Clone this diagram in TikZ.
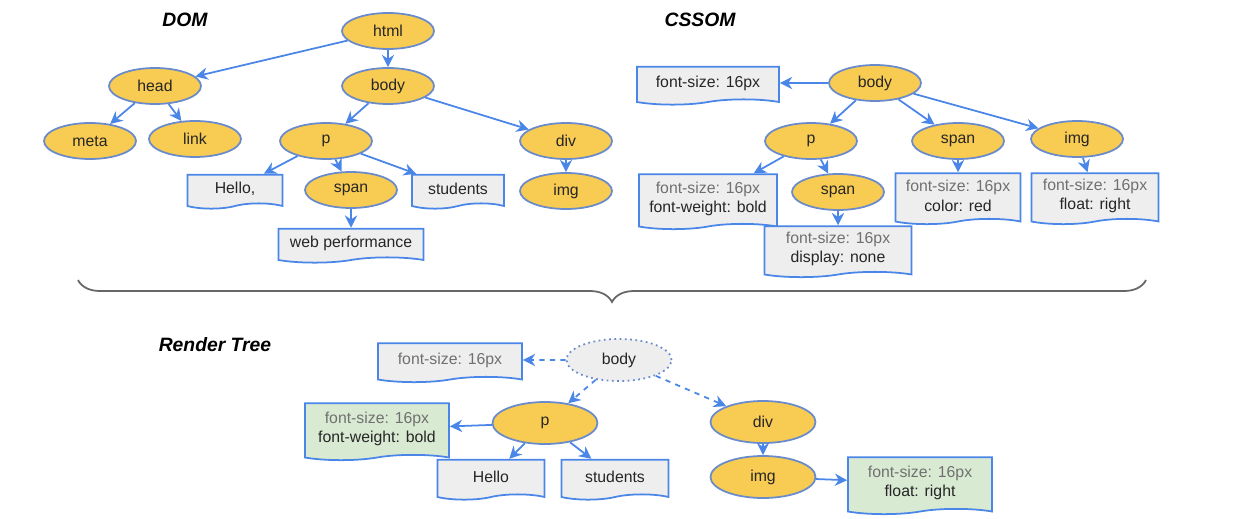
\documentclass[tikz,border=0pt]{standalone}
\usepackage{fontspec}
\setmainfont{Liberation Sans}
\usetikzlibrary{positioning, arrows.meta, shapes.geometric, shapes.symbols, decorations.pathreplacing}
\definecolor{nodeyellow}{HTML}{F8CB52}
\definecolor{nodeedge}{HTML}{6A8BCB}
\definecolor{arrowblue}{HTML}{4A86E8}
\definecolor{boxgray}{HTML}{EEEEEE}
\definecolor{boxgreen}{HTML}{D9EAD3}
\definecolor{textgray}{HTML}{707070}

\begin{document}
\begin{tikzpicture}[on grid, every node/.style={font=\fontsize{9}{11}\selectfont, text=black!85},
        el/.style={ellipse, draw=nodeedge, fill=nodeyellow, line width=1pt, minimum width=1.84cm, minimum height=0.72cm, inner sep=0pt},
        bigel/.style={el, minimum width=2.1cm, minimum height=0.84cm},
        doc/.style={tape, tape bend top=none, tape bend height=3pt, draw=arrowblue, fill=boxgray, line width=1pt, align=center, inner sep=2pt, minimum height=0.68cm},
        twoline/.style={doc, minimum height=1.02cm},
        greendoc/.style={twoline, fill=boxgreen},
        title/.style={font=\fontsize{11}{13}\selectfont\bfseries\itshape, text=black},
        arr/.style={draw=arrowblue, line width=1pt, -{Stealth[length=7pt, width=7pt]}},
        darr/.style={arr, dashed}]
            \useasboundingbox (0,0) rectangle (24.92,-10.36);
            \node[title] (domtitle) at (3.7,-0.4) {DOM};
            \node[title] (cssomtitle) at (14.0,-0.4) {CSSOM};
            \node[title] (rendertitle) at (4.3,-6.9) {Render Tree};
            \node[el] (html) at (7.76,-0.62) {html};
            \node[el, below left=1.1cm and 4.66cm of html] (head) {head};
            \node[el, below=1.1cm of html] (body) {body};
            \node[el, below left=1.1cm and 1.3cm of head] (meta) {meta};
            \node[el, below right=1.06cm and 0.8cm of head] (link) {link};
            \node[el, below left=1.1cm and 1.24cm of body] (p) {p};
            \node[el, below right=1.1cm and 3.56cm of body] (div) {div};
            \node[doc, minimum width=1.9cm, below left=0.96cm and 1.82cm of p] (hello) {Hello,};
            \node[el, below right=0.98cm and 0.5cm of p] (span) {span};
            \node[doc, minimum width=1.84cm, below right=0.96cm and 2.64cm of p] (students) {students};
            \node[el, below=1.0cm of div] (img) {img};
            \node[doc, minimum width=2.9cm, below=1.06cm of span] (webperf) {web performance};
            \node[el] (cbody) at (17.5,-1.66) {body};
            \node[doc, minimum width=2.84cm, minimum height=0.76cm, left=3.34cm of cbody] (cfont) {font-size: 16px};
            \node[el, below left=1.16cm and 1.28cm of cbody] (cp) {p};
            \node[el, below right=1.16cm and 1.66cm of cbody] (cspan) {span};
            \node[el, below right=1.12cm and 4.04cm of cbody] (cimg) {img};
            \node[twoline, minimum width=2.76cm, minimum height=1.1cm, below left=1.16cm and 2.06cm of cp] (cpbox) {\textcolor{textgray}{font-size: 16px}\\font-weight: bold};
            \node[el, below right=1.02cm and 0.54cm of cp] (cspan2) {span};
            \node[twoline, minimum width=2.94cm, below=1.14cm of cspan2] (cspan2box) {\textcolor{textgray}{font-size: 16px}\\display: none};
            \node[twoline, minimum width=2.5cm, below=1.1cm of cspan] (cspanbox) {\textcolor{textgray}{font-size: 16px}\\color: red};
            \node[twoline, minimum width=2.54cm, below right=1.14cm and 0.36cm of cimg] (cimgbox) {\textcolor{textgray}{font-size: 16px}\\float: right};
            \node[bigel, fill=boxgray, draw=nodeedge, dotted] (rbody) at (12.38,-7.2) {body};
            \node[doc, minimum width=2.88cm, minimum height=0.78cm, text=textgray, left=3.38cm of rbody] (rfont) {font-size: 16px};
            \node[bigel, below left=1.26cm and 1.48cm of rbody] (rp) {p};
            \node[bigel, below right=1.24cm and 2.88cm of rbody] (rdiv) {div};
            \node[greendoc, minimum width=2.88cm, minimum height=1.14cm, below left=0.12cm and 3.36cm of rp] (rpbox) {\textcolor{textgray}{font-size: 16px}\\font-weight: bold};
            \node[doc, minimum width=2.14cm, minimum height=0.8cm, below left=1.08cm and 1.08cm of rp] (rhello) {Hello};
            \node[doc, minimum width=2.14cm, minimum height=0.8cm, below right=1.08cm and 1.4cm of rp] (rstudents) {students};
            \node[bigel, below=1.1cm of rdiv] (rimg) {img};
            \node[greendoc, minimum width=2.88cm, minimum height=1.14cm, below right=0.12cm and 3.14cm of rimg] (rimgbox) {\textcolor{textgray}{font-size: 16px}\\float: right};
            \coordinate (braceleft) at (1.56,-5.6);
            \coordinate (braceright) at (22.92,-5.6);
            \draw[decorate, decoration={brace, mirror, amplitude=0.44cm}, draw=black!60, line width=1pt] (braceleft) -- (braceright);
            \draw[arr] (html) -- (head);
            \draw[arr] (html) -- (body);
            \draw[arr] (head) -- (meta);
            \draw[arr] (head) -- (link);
            \draw[arr] (body) -- (p);
            \draw[arr] (body) -- (div);
            \draw[arr] (p) -- (hello);
            \draw[arr] (p) -- (span);
            \draw[arr] (p) -- (students);
            \draw[arr] (span) -- (webperf);
            \draw[arr] (div) -- (img);
            \draw[arr] (cbody) -- (cfont);
            \draw[arr] (cbody) -- (cp);
            \draw[arr] (cbody) -- (cspan);
            \draw[arr] (cbody) -- (cimg);
            \draw[arr] (cp) -- (cpbox);
            \draw[arr] (cp) -- (cspan2);
            \draw[arr] (cspan2) -- (cspan2box);
            \draw[arr] (cspan) -- (cspanbox);
            \draw[arr] (cimg) -- (cimgbox);
            \draw[darr] (rbody) -- (rfont);
            \draw[darr] (rbody) -- (rp);
            \draw[darr] (rbody) -- (rdiv);
            \draw[arr] (rp) -- (rpbox);
            \draw[arr] (rp) -- (rhello);
            \draw[arr] (rp) -- (rstudents);
            \draw[arr] (rdiv) -- (rimg);
            \draw[arr] (rimg) -- (rimgbox);
        \end{tikzpicture}
\end{document}
